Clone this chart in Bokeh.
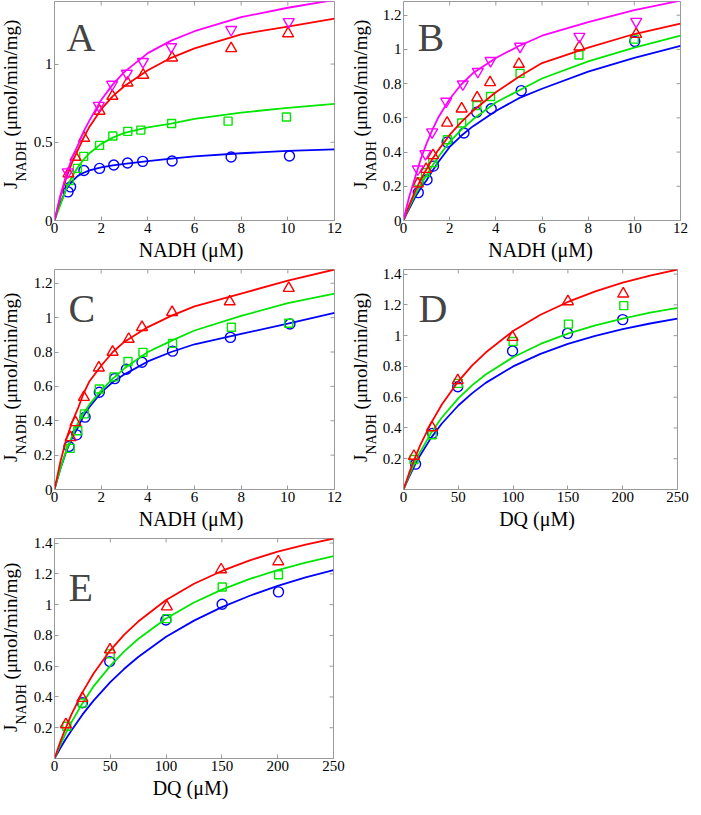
from bokeh.plotting import figure
from bokeh.models import Label, FixedTicker, CustomJSTickFormatter, Range1d, Div
from bokeh.layouts import column, row
from bokeh.embed import file_html
from bokeh.resources import INLINE

# ---------------- data ----------------
x_fit_nadh = [0, 0.1, 0.25, 0.5, 0.75, 1, 1.25, 1.5, 2, 2.5, 3, 4, 5, 6, 8, 10, 12]
x_fit_dq = [0, 5, 10, 15, 25, 35, 50, 62.5, 75, 100, 125, 150, 175, 200, 225, 250]

nadh_ticks = [0, 2, 4, 6, 8, 10, 12]
dq_ticks = [0, 50, 100, 150, 200, 250]
a_y_ticks = [0, 0.5, 1]
bc_y_ticks = [0, 0.2, 0.4, 0.6, 0.8, 1, 1.2]
de_y_ticks = [0.2, 0.4, 0.6, 0.8, 1, 1.2, 1.4]

# Panel A
A_fit_blue = [0, 0.05, 0.11, 0.20, 0.25, 0.285, 0.305, 0.32, 0.34, 0.352, 0.362, 0.38, 0.395, 0.41, 0.43, 0.445, 0.455]
A_fit_green = [0, 0.04, 0.10, 0.20, 0.28, 0.34, 0.39, 0.43, 0.49, 0.53, 0.56, 0.595, 0.62, 0.65, 0.69, 0.72, 0.745]
A_fit_red = [0, 0.06, 0.15, 0.27, 0.37, 0.45, 0.53, 0.60, 0.71, 0.795, 0.86, 0.96, 1.04, 1.10, 1.19, 1.24, 1.29]
A_fit_mag = [0, 0.065, 0.16, 0.29, 0.40, 0.48, 0.57, 0.64, 0.77, 0.87, 0.95, 1.07, 1.15, 1.21, 1.30, 1.36, 1.41]
A_blue_x = [0.58, 0.69, 1.26, 1.93, 2.54, 3.13, 3.78, 5.04, 7.57, 10.07]
A_blue_y = [0.183, 0.215, 0.32, 0.333, 0.355, 0.368, 0.378, 0.38, 0.406, 0.412]
A_green_x = [0.63, 0.98, 1.25, 1.93, 2.5, 3.14, 3.7, 5.02, 7.44, 9.94]
A_green_y = [0.255, 0.333, 0.41, 0.48, 0.54, 0.57, 0.578, 0.62, 0.635, 0.662]
A_red_x = [0.6, 0.9, 1.27, 1.93, 2.48, 3.13, 3.8, 5.04, 7.57, 10.01]
A_red_y = [0.30, 0.405, 0.527, 0.70, 0.795, 0.88, 0.93, 1.04, 1.10, 1.195]
A_mag_x = [0.57, 1.9, 2.47, 3.1, 3.79, 5.0, 7.57, 10.04]
A_mag_y = [0.31, 0.735, 0.87, 0.94, 1.015, 1.11, 1.22, 1.27]

# Panel B
B_fit_blue = [0, 0.03, 0.07, 0.135, 0.19, 0.235, 0.29, 0.34, 0.43, 0.495, 0.55, 0.64, 0.715, 0.77, 0.87, 0.95, 1.02]
B_fit_green = [0, 0.035, 0.08, 0.15, 0.21, 0.265, 0.32, 0.37, 0.46, 0.53, 0.59, 0.69, 0.76, 0.83, 0.93, 1.01, 1.08]
B_fit_red = [0, 0.04, 0.09, 0.17, 0.24, 0.30, 0.36, 0.41, 0.50, 0.575, 0.64, 0.75, 0.84, 0.92, 1.01, 1.09, 1.15]
B_fit_mag = [0, 0.06, 0.14, 0.25, 0.36, 0.45, 0.53, 0.60, 0.71, 0.795, 0.86, 0.95, 1.02, 1.08, 1.16, 1.23, 1.285]
B_blue_x = [0.64, 1.02, 1.3, 1.89, 2.62, 3.17, 3.8, 5.1, 10.02]
B_blue_y = [0.163, 0.238, 0.318, 0.458, 0.511, 0.633, 0.653, 0.759, 1.047]
B_green_x = [0.66, 0.95, 1.27, 1.9, 2.52, 3.18, 3.77, 5.05, 7.6, 10.0]
B_green_y = [0.225, 0.28, 0.338, 0.472, 0.57, 0.672, 0.725, 0.86, 0.967, 1.06]
B_red_x = [0.62, 0.98, 1.28, 1.89, 2.52, 3.19, 3.75, 5.0, 7.62, 10.08]
B_red_y = [0.215, 0.30, 0.38, 0.57, 0.653, 0.718, 0.807, 0.914, 1.015, 1.089]
B_mag_x = [0.62, 0.95, 1.24, 1.85, 2.57, 3.22, 3.77, 5.05, 7.62, 10.08]
B_mag_y = [0.30, 0.39, 0.517, 0.696, 0.797, 0.87, 0.934, 1.017, 1.075, 1.163]

# Panel C
C_fit_blue = [0, 0.05, 0.12, 0.22, 0.30, 0.36, 0.43, 0.48, 0.565, 0.625, 0.67, 0.745, 0.80, 0.845, 0.905, 0.965, 1.027]
C_fit_green = [0, 0.05, 0.12, 0.225, 0.31, 0.385, 0.445, 0.495, 0.575, 0.645, 0.705, 0.80, 0.865, 0.925, 1.01, 1.085, 1.14]
C_fit_red = [0, 0.065, 0.16, 0.29, 0.39, 0.47, 0.56, 0.63, 0.72, 0.80, 0.86, 0.945, 1.01, 1.065, 1.14, 1.215, 1.28]
C_blue_x = [0.62, 0.95, 1.31, 1.92, 2.58, 3.08, 3.75, 5.06, 7.54, 10.09]
C_blue_y = [0.25, 0.318, 0.421, 0.566, 0.645, 0.70, 0.74, 0.805, 0.885, 0.963]
C_green_x = [0.67, 1.0, 1.28, 1.92, 2.55, 3.15, 3.79, 5.06, 7.58, 10.04]
C_green_y = [0.239, 0.342, 0.44, 0.585, 0.655, 0.745, 0.798, 0.85, 0.944, 0.967]
C_red_x = [0.69, 0.9, 1.26, 1.9, 2.49, 3.18, 3.75, 5.04, 7.51, 10.04]
C_red_y = [0.303, 0.39, 0.537, 0.708, 0.80, 0.875, 0.944, 1.031, 1.093, 1.171]

# Panel D
D_fit_blue = [0, 0.081, 0.154, 0.22, 0.334, 0.429, 0.546, 0.625, 0.693, 0.80, 0.882, 0.947, 0.999, 1.042, 1.079, 1.11]
D_fit_green = [0, 0.09, 0.17, 0.2415, 0.365, 0.468, 0.592, 0.677, 0.748, 0.86, 0.946, 1.013, 1.067, 1.111, 1.149, 1.18]
D_fit_red = [0, 0.1045, 0.198, 0.283, 0.43, 0.552, 0.703, 0.805, 0.89, 1.03, 1.136, 1.219, 1.288, 1.344, 1.39, 1.43]
D_blue_x = [11, 26.5, 49.5, 99.5, 149.7, 200]
D_blue_y = [0.165, 0.365, 0.668, 0.90, 1.015, 1.104]
D_green_x = [9.6, 26.2, 50, 100, 150.5, 201]
D_green_y = [0.195, 0.356, 0.69, 0.962, 1.075, 1.195]
D_red_x = [9.5, 26, 49.5, 99.5, 150, 200.5]
D_red_y = [0.217, 0.403, 0.709, 0.99, 1.222, 1.272]

# Panel E
E_fit_blue = [0, 0.065, 0.125, 0.18, 0.285, 0.376, 0.497, 0.583, 0.66, 0.791, 0.896, 0.984, 1.058, 1.122, 1.177, 1.225]
E_fit_green = [0, 0.085, 0.162, 0.233, 0.358, 0.469, 0.602, 0.696, 0.777, 0.91, 1.014, 1.098, 1.167, 1.224, 1.273, 1.315]
E_fit_red = [0, 0.1045, 0.198, 0.283, 0.43, 0.552, 0.703, 0.805, 0.89, 1.03, 1.136, 1.219, 1.288, 1.344, 1.39, 1.43]
E_blue_x = [25, 49.5, 99.8, 150.2, 200.7]
E_blue_y = [0.362, 0.63, 0.90, 1.003, 1.083]
E_green_x = [11, 25, 49.9, 100.7, 150.3, 200.7]
E_green_y = [0.21, 0.36, 0.68, 0.909, 1.115, 1.194]
E_red_x = [10.2, 25, 49.7, 100.7, 149.3, 200.5]
E_red_y = [0.221, 0.392, 0.707, 0.987, 1.228, 1.28]

# ---------------- styling ----------------
FONT = "Liberation Serif"
CSS_FONT = "font-family:'Liberation Serif','Times New Roman',serif"
BLUE, GREEN, RED, MAG = "#0000ff", "#00e600", "#ff0000", "#ff00ff"
FRAME = "#9a9a9a"
MARKERS = {"blue": ("circle", 10), "green": ("square", 8), "red": ("triangle", 11),
           "mag": ("inverted_triangle", 11)}
COLORS = {"blue": BLUE, "green": GREEN, "red": RED, "mag": MAG}
TICK_LEN = 4
BB = 19  # bottom border of each plot (tick labels only)

fmt = CustomJSTickFormatter(code="return String(Math.round(tick*100)/100);")


def style_axis(ax, ticks, standoff):
    ax.ticker = FixedTicker(ticks=ticks)
    ax.formatter = fmt
    ax.axis_line_color = None
    ax.major_tick_in = TICK_LEN
    ax.major_tick_out = 0
    ax.major_tick_line_color = FRAME
    ax.minor_tick_line_color = None
    ax.major_label_text_font = FONT
    ax.major_label_text_color = "#000000"
    ax.major_label_text_font_size = "15px"
    ax.major_label_standoff = standoff


def panel(letter, fw, fh, bl, br, bt, x_end, y_end, x_ticks, y_ticks, fit_x,
          series, letter_dx, letter_dy):
    p = figure(frame_width=fw, frame_height=fh, x_range=Range1d(0, x_end),
               y_range=Range1d(0, y_end), output_backend="svg", toolbar_location=None,
               min_border_left=bl, min_border_right=br, min_border_top=bt,
               min_border_bottom=BB, background_fill_color="white",
               border_fill_color="white")
    p.grid.visible = False
    p.outline_line_color = FRAME
    p.outline_line_width = 1
    style_axis(p.xaxis[0], x_ticks, 2)
    style_axis(p.yaxis[0], y_ticks, 2)

    # mirrored inward ticks on the top and right edges of the box
    dy = TICK_LEN * y_end / fh
    dx = TICK_LEN * x_end / fw
    p.segment(x0=x_ticks, y0=[y_end] * len(x_ticks), x1=x_ticks,
              y1=[y_end - dy] * len(x_ticks), line_color=FRAME, line_width=1)
    p.segment(x0=[x_end] * len(y_ticks), y0=y_ticks, x1=[x_end - dx] * len(y_ticks),
              y1=y_ticks, line_color=FRAME, line_width=1)

    for key, fit_y, px, py in series:
        col = COLORS[key]
        mk, sz = MARKERS[key]
        p.line(fit_x, fit_y, line_color=col, line_width=1.8)
        p.scatter(px, py, marker=mk, size=sz, line_color=col, fill_color=None,
                  line_width=1.4)

    p.add_layout(Label(x=letter_dx, y=fh - letter_dy, x_units="screen", y_units="screen",
                       text=letter, text_font=FONT, text_font_size="40px",
                       text_align="left", text_baseline="alphabetic"))
    return p


def ylabel_div(w, h, bx, jy):
    """Rotated y label J_NADH (umol/min/mg) as real SVG text."""
    svg = (f'<svg xmlns="http://www.w3.org/2000/svg" width="{w}" height="{h}" '
           f'style="display:block">'
           f'<text transform="translate({bx},{jy}) rotate(-90)" '
           f'style="{CSS_FONT};font-size:19px;fill:#000000">J'
           f'<tspan dy="8.5" style="{CSS_FONT};font-size:14px">NADH</tspan>'
           f'<tspan dy="-8.5" style="{CSS_FONT};font-size:19px"> (\u03bcmol/min/mg)</tspan>'
           f'</text></svg>')
    return Div(text=svg, width=w, height=h, margin=0)


def xlabel_div(w, h, cx, text):
    svg = (f'<svg xmlns="http://www.w3.org/2000/svg" width="{w}" height="{h}" '
           f'style="display:block">'
           f'<text x="{cx}" y="17.5" text-anchor="middle" '
           f'style="{CSS_FONT};font-size:20px;fill:#000000">{text}</text></svg>')
    return Div(text=svg, width=w, height=h, margin=0)


# row 1: page y 8..270 ; row 2: 270..540 ; row 3: 540..807
pA = panel("A", 280, 219, 21, 12, 1, 12, 1.4, nadh_ticks, a_y_ticks, x_fit_nadh,
           [("blue", A_fit_blue, A_blue_x, A_blue_y),
            ("green", A_fit_green, A_green_x, A_green_y),
            ("red", A_fit_red, A_red_x, A_red_y),
            ("mag", A_fit_mag, A_mag_x, A_mag_y)], 12, 36)
pB = panel("B", 277, 219, 23, 8, 1, 12, 1.28, nadh_ticks, bc_y_ticks, x_fit_nadh,
           [("blue", B_fit_blue, B_blue_x, B_blue_y),
            ("green", B_fit_green, B_green_x, B_green_y),
            ("red", B_fit_red, B_red_x, B_red_y),
            ("mag", B_fit_mag, B_mag_x, B_mag_y)], 14, 36)
pC = panel("C", 280, 220, 21, 12, 7, 12, 1.28, nadh_ticks, bc_y_ticks, x_fit_nadh,
           [("blue", C_fit_blue, C_blue_x, C_blue_y),
            ("green", C_fit_green, C_green_x, C_green_y),
            ("red", C_fit_red, C_red_x, C_red_y)], 14, 39)
pD = panel("D", 274, 220, 21, 13, 7, 250, 1.43, dq_ticks, de_y_ticks, x_fit_dq,
           [("blue", D_fit_blue, D_blue_x, D_blue_y),
            ("green", D_fit_green, D_green_x, D_green_y),
            ("red", D_fit_red, D_red_x, D_red_y)], 15, 39)
pE = panel("E", 279, 220, 21, 15, 6, 250, 1.43, dq_ticks, de_y_ticks, x_fit_dq,
           [("blue", E_fit_blue, E_blue_x, E_blue_y),
            ("green", E_fit_green, E_green_x, E_green_y),
            ("red", E_fit_red, E_red_x, E_red_y)], 14, 49)

NADH_LABEL = "NADH (\u03bcM)"
DQ_LABEL = "DQ (\u03bcM)"

row1 = row(ylabel_div(30, 262, 17, 189),
           column(pA, xlabel_div(313, 23, 21 + 140, NADH_LABEL)),
           ylabel_div(33, 262, 21, 189),
           column(pB, xlabel_div(308, 23, 23 + 138.5, NADH_LABEL)))
row2 = row(ylabel_div(30, 270, 17, 200),
           column(pC, xlabel_div(313, 24, 21 + 140, NADH_LABEL)),
           ylabel_div(33, 270, 21, 200),
           column(pD, xlabel_div(308, 24, 21 + 137, DQ_LABEL)))
row3 = row(ylabel_div(30, 267, 17, 200),
           column(pE, xlabel_div(315, 22, 21 + 139.5, DQ_LABEL)))

layout = column(row1, row2, row3)
open("out.html", "w").write(file_html(layout, INLINE))
